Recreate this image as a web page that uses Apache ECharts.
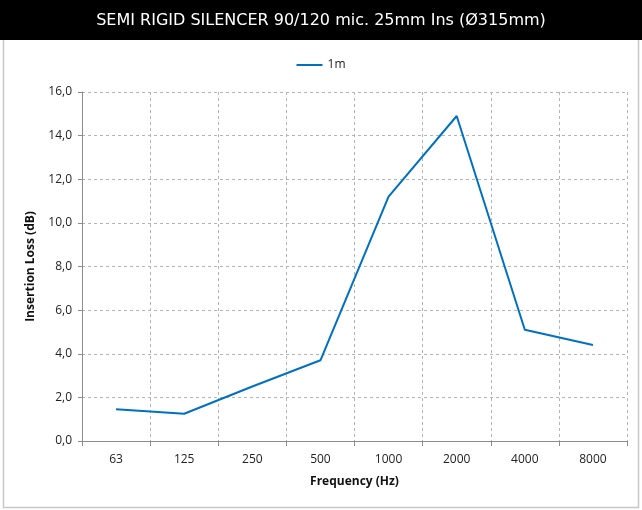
<!DOCTYPE html>
<html>
<head>
<meta charset="utf-8" />
<title>Semi rigid silencer</title>
<script src="https://cdn.jsdelivr.net/npm/echarts@6/dist/echarts.min.js"></script>
<style>
  html, body { margin: 0; padding: 0; background: #fff; }
  #main { width: 642px; height: 510px; }
</style>
</head>
<body>
<div id="main"></div>
<script>
// frequency bands (Hz)
var categories = ['63', '125', '250', '500', '1000', '2000', '4000', '8000'];
// insertion loss, 1m length (dB)
var loss1m = [1.45, 1.25, 2.5, 3.7, 11.2, 14.9, 5.1, 4.4];
var yTicks = { min: 0, max: 16, step: 2 };

var chart = echarts.init(document.getElementById('main'));

var gridColor = '#b4b4b4';
var axisFont = '"Open Sans", "Liberation Sans", sans-serif';

var option = {
  animation: false,
  graphic: [
    { type: 'rect', z: 0, shape: { x: 3.5, y: 38.5, width: 635, height: 469 },
      style: { fill: '#fff', stroke: '#c8c8c8', lineWidth: 1.5 } },
    { type: 'rect', z: 1, shape: { x: 0, y: 0, width: 642, height: 40 },
      style: { fill: '#000' } },
    { type: 'text', z: 2, left: 'center', top: 13,
      style: { text: 'SEMI RIGID SILENCER 90/120 mic. 25mm Ins (\u00d8315mm)',
               fill: '#fff', font: '16px "DejaVu Sans", Verdana, sans-serif' } }
  ],
  legend: {
    top: 54,
    left: 'center',
    icon: 'rect',
    itemWidth: 26,
    itemHeight: 2,
    itemGap: 4,
    textStyle: { color: '#222', fontSize: 12, fontFamily: axisFont },
    data: ['1m']
  },
  grid: { left: 82, right: 15, top: 92, bottom: 69, containLabel: false },
  xAxis: {
    type: 'category',
    data: categories,
    boundaryGap: true,
    name: 'Frequency (Hz)',
    nameLocation: 'middle',
    nameGap: 35,
    nameTextStyle: { fontWeight: 'bold', fontSize: 12, color: '#111', fontFamily: axisFont },
    axisLine: { lineStyle: { color: '#8c8c8c', width: 1 } },
    axisTick: { show: true, length: 5, lineStyle: { color: '#8c8c8c' } },
    axisLabel: { color: '#222', fontSize: 12, margin: 13, fontFamily: axisFont },
    splitLine: { show: true, lineStyle: { color: gridColor, type: [3, 3], width: 1 } }
  },
  yAxis: {
    type: 'value',
    min: yTicks.min,
    max: yTicks.max,
    interval: yTicks.step,
    name: 'Insertion Loss (dB)',
    nameLocation: 'middle',
    nameGap: 45,
    nameTextStyle: { fontWeight: 'bold', fontSize: 12, color: '#111', fontFamily: axisFont },
    axisLine: { show: true, lineStyle: { color: '#8c8c8c', width: 1 } },
    axisTick: { show: true, length: 4, lineStyle: { color: '#8c8c8c' } },
    axisLabel: {
      color: '#222', fontSize: 12, margin: 10, fontFamily: axisFont,
      formatter: function (v) { return v.toFixed(1).replace('.', ','); }
    },
    splitLine: { show: true, lineStyle: { color: gridColor, type: [3, 3], width: 1 } }
  },
  series: [{
    name: '1m',
    type: 'line',
    data: loss1m,
    showSymbol: false,
    symbol: 'none',
    lineStyle: { color: '#0070c0', width: 2 },
    itemStyle: { color: '#0070c0' }
  }]
};

chart.setOption(option);
</script>
</body>
</html>
